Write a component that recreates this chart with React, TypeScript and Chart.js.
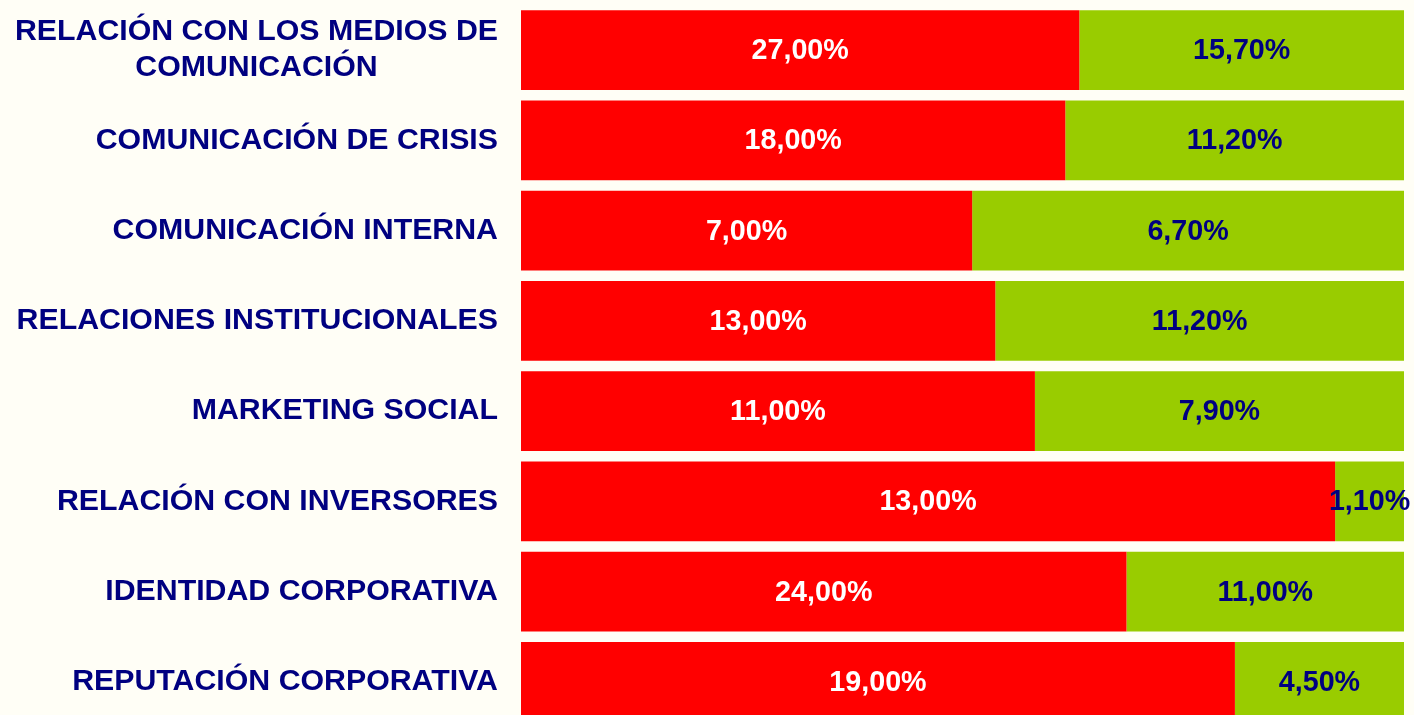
import React, { useEffect, useRef } from "react";
import { Chart, registerables } from "chart.js";

Chart.register(...registerables);

const categories: (string | string[])[] = [
  ["RELACIÓN CON LOS MEDIOS DE", "COMUNICACIÓN"],
  "COMUNICACIÓN DE CRISIS",
  "COMUNICACIÓN INTERNA",
  "RELACIONES INSTITUCIONALES",
  "MARKETING SOCIAL",
  "RELACIÓN CON INVERSORES",
  "IDENTIDAD CORPORATIVA",
  "REPUTACIÓN CORPORATIVA",
];
const redValues = [27.0, 18.0, 7.0, 13.0, 11.0, 13.0, 24.0, 19.0];
const greenValues = [15.7, 11.2, 6.7, 11.2, 7.9, 1.1, 11.0, 4.5];

const RED = "#FF0000";
const GREEN = "#99CC00";
const NAVY = "#000080";
const BG = "#FFFEF6";

const fmt = (v: number) => v.toFixed(2).replace(".", ",") + "%";

export default function App() {
  const ref = useRef<HTMLCanvasElement | null>(null);

  useEffect(() => {
    if (!ref.current) return;
    const totals = redValues.map((r, i) => r + greenValues[i]);
    const redShare = redValues.map((r, i) => (r / totals[i]) * 100);
    const greenShare = greenValues.map((g, i) => (g / totals[i]) * 100);
    const raw = [redValues, greenValues];

    const plugin = {
      id: "custom",
      beforeDraw(chart: any) {
        const { ctx, width, height } = chart;
        ctx.save();
        ctx.fillStyle = BG;
        ctx.fillRect(0, 0, width, height);
        ctx.restore();
      },
      afterDatasetsDraw(chart: any) {
        const { ctx } = chart;
        ctx.save();
        ctx.font = "bold 28.7px 'Liberation Sans', Arial, sans-serif";
        ctx.textAlign = "center";
        ctx.textBaseline = "middle";
        chart.data.datasets.forEach((ds: any, di: number) => {
          const meta = chart.getDatasetMeta(di);
          meta.data.forEach((el: any, i: number) => {
            const cx = (el.x + el.base) / 2;
            ctx.fillStyle = di === 0 ? "#FFFFFF" : NAVY;
            ctx.fillText(fmt(raw[di][i]), cx, el.y + 1);
          });
        });
        // category labels
        const y = chart.scales.y;
        const right = 498;
        const lh = 36;
        ctx.font = "bold 30.3px 'Liberation Sans', Arial, sans-serif";
        ctx.fillStyle = NAVY;
        categories.forEach((c, i) => {
          const cy = y.getPixelForValue(i);
          const lines = Array.isArray(c) ? c : [c];
          const w = Math.max(...lines.map((l) => ctx.measureText(l).width));
          const center = right - w / 2;
          const top = cy - ((lines.length - 1) * lh) / 2;
          lines.forEach((l, k) => {
            ctx.textAlign = "center";
            ctx.fillText(l, center, top + k * lh);
          });
        });
        ctx.restore();
      },
    };

    const chart = new Chart(ref.current, {
      type: "bar",
      data: {
        labels: categories as any,
        datasets: [
          {
            label: "A",
            data: redShare,
            backgroundColor: RED,
            borderWidth: 0,
            categoryPercentage: 1,
            barPercentage: 0.886,
          },
          {
            label: "B",
            data: greenShare,
            backgroundColor: GREEN,
            borderWidth: 0,
            categoryPercentage: 1,
            barPercentage: 0.886,
          },
        ],
      },
      options: {
        indexAxis: "y",
        animation: false,
        responsive: true,
        maintainAspectRatio: false,
        layout: { padding: { left: 521, right: 10, top: 5, bottom: 0 } },
        plugins: {
          legend: { display: false },
          tooltip: { enabled: false },
        },
        scales: {
          x: { stacked: true, min: 0, max: 100, display: false },
          y: { stacked: true, display: false },
        },
      },
      plugins: [plugin],
    });
    return () => chart.destroy();
  }, []);

  return (
    <div
      style={{
        position: "fixed",
        top: 0,
        left: 0,
        width: 1414,
        height: 715,
        overflow: "hidden",
        background: BG,
      }}
    >
      <div style={{ position: "relative", width: 1414, height: 727 }}>
        <canvas ref={ref} />
      </div>
    </div>
  );
}
